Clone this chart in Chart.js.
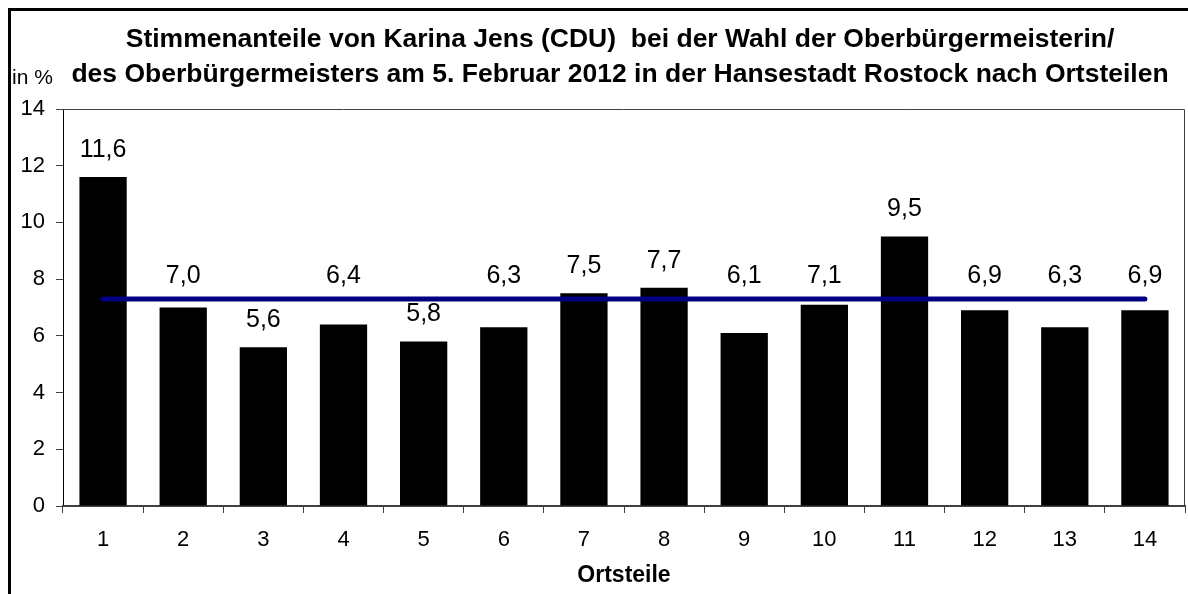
<!DOCTYPE html>
<html>
<head>
<meta charset="utf-8">
<script src="https://cdn.jsdelivr.net/npm/chart.js@4"></script>
<style>
  html, body { margin: 0; padding: 0; background: #fff; }
  #wrap { width: 1188px; height: 594px; }
</style>
</head>
<body>
<div id="wrap"><canvas id="myChart" width="1188" height="594"></canvas></div>
<script>
// Ortsteile 1..14
const ortsteile = ['1','2','3','4','5','6','7','8','9','10','11','12','13','14'];
// Stimmenanteil in %
const anteile = [11.6, 7.0, 5.6, 6.4, 5.8, 6.3, 7.5, 7.7, 6.1, 7.1, 9.5, 6.9, 6.3, 6.9];
// Durchschnitt Hansestadt (blaue Linie)
const mittel = 7.3;
const titelZeilen = [
  'Stimmenanteile von Karina Jens (CDU)  bei der Wahl der Oberbürgermeisterin/',
  'des Oberbürgermeisters am 5. Februar 2012 in der Hansestadt Rostock nach Ortsteilen'
];

const FONT = 'Arial, "Liberation Sans", sans-serif';

// rahmen, titel, "in %", achsentitel, werte ueber den balken
const extras = {
  id: 'extras',
  afterDraw(chart) {
    const ctx = chart.ctx;
    const a = chart.chartArea;
    ctx.save();
    // aussenrahmen
    ctx.strokeStyle = '#000';
    ctx.lineWidth = 3;
    ctx.beginPath();
    ctx.moveTo(9.5, 594);
    ctx.lineTo(9.5, 9.5);
    ctx.lineTo(1188, 9.5);
    ctx.stroke();
    // plotbereich oben + rechts
    ctx.strokeStyle = '#404040';
    ctx.lineWidth = 1;
    ctx.beginPath();
    ctx.moveTo(a.left, a.top + 0.5);
    ctx.lineTo(a.right - 0.5, a.top + 0.5);
    ctx.lineTo(a.right - 0.5, a.bottom);
    ctx.stroke();
    // titel
    ctx.fillStyle = '#000';
    ctx.font = 'bold 26.5px ' + FONT;
    ctx.textAlign = 'center';
    ctx.textBaseline = 'middle';
    ctx.fillText(titelZeilen[0], 620, 40);
    ctx.fillText(titelZeilen[1], 620, 75);
    ctx.font = '21px ' + FONT;
    ctx.textAlign = 'left';
    ctx.fillText('in %', 12, 78);
    ctx.font = 'bold 23px ' + FONT;
    ctx.textAlign = 'center';
    ctx.fillText('Ortsteile', (a.left + a.right) / 2, 576);
    // werte; knapp unter der linie -> ueber die linie schieben
    const lineY = chart.scales.y.getPixelForValue(mittel);
    const meta = chart.getDatasetMeta(1);
    ctx.font = '25px ' + FONT;
    meta.data.forEach((bar, i) => {
      const d = mittel - anteile[i];
      let y = bar.y - 27;
      if (d > 0 && d < 1.35) y = lineY - 23;
      ctx.fillText(anteile[i].toFixed(1).replace('.', ','), bar.x, y);
    });
    ctx.restore();
  }
};

new Chart(document.getElementById('myChart'), {
  type: 'bar',
  data: {
    labels: ortsteile,
    datasets: [
      {
        type: 'line',
        data: ortsteile.map(() => mittel),
        borderColor: '#000080',
        borderWidth: 5,
        borderCapStyle: 'round',
        pointRadius: 0,
        order: 0
      },
      {
        data: anteile,
        backgroundColor: '#000',
        borderColor: '#000',
        barPercentage: 0.59,
        categoryPercentage: 1,
        order: 1
      }
    ]
  },
  plugins: [extras],
  options: {
    responsive: false,
    animation: false,
    layout: { padding: { top: 109, right: 3, left: 0, bottom: 0 } },
    plugins: {
      legend: { display: false },
      title: { display: false },
      tooltip: { enabled: false }
    },
    scales: {
      y: {
        min: 0,
        max: 14,
        afterFit(scale) { scale.width = 63; },
        ticks: {
          stepSize: 2,
          color: '#000',
          font: { family: FONT, size: 22 },
          padding: 11
        },
        grid: { drawOnChartArea: false, tickLength: 7, color: '#404040' },
        border: { color: '#000', width: 1 }
      },
      x: {
        afterFit(scale) { scale.height = 88; },
        ticks: {
          color: '#000',
          font: { family: FONT, size: 22 },
          padding: 14
        },
        grid: { offset: true, drawOnChartArea: false, tickLength: 7, color: '#404040' },
        border: { color: '#404040', width: 2 }
      }
    }
  }
});
</script>
</body>
</html>
